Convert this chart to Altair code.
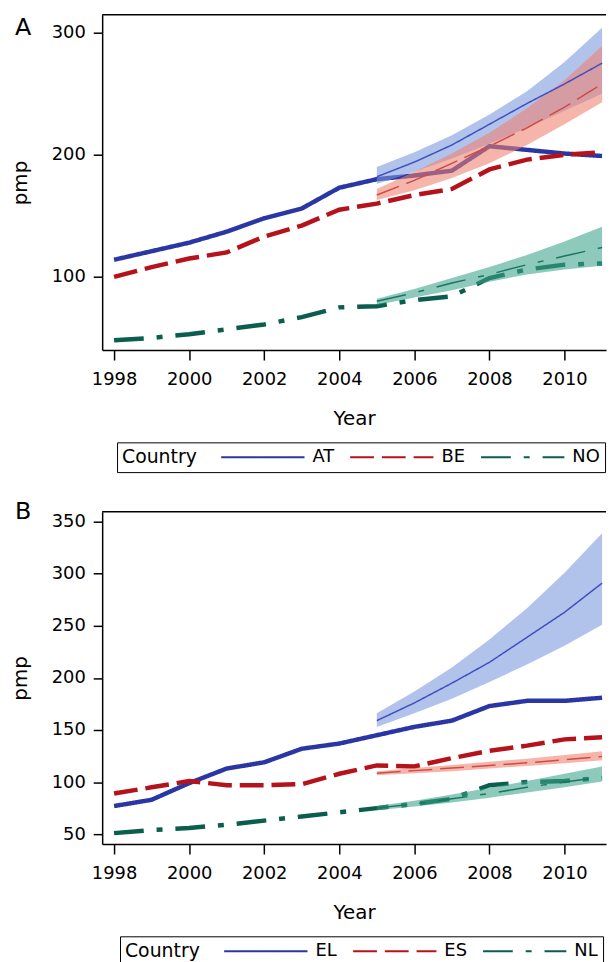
import altair as alt
import pandas as pd

FONT = "DejaVu Sans"

# ---------------- data ----------------
years = list(range(1998, 2012))
proj_years = list(range(2005, 2012))
panel_labels = ["A", "B"]

# Panel A
a_countries = ["AT", "BE", "NO"]
a_obs_AT = [114, 121, 128, 137, 148, 156, 173, 180, 183, 187, 207, 204, 201, 199]
a_obs_BE = [100, 108, 115, 120, 133, 142, 155, 160, 167, 172, 188, 196, 200, 202]
a_obs_NO = [48, 50, 53, 57, 61, 67, 75, 76, 81, 84, 99, 106, 110, 111]
a_proj_AT = [182, 194, 208, 225, 242, 258, 275]
a_lo_AT = [176, 186, 197, 209, 222, 236, 250]
a_hi_AT = [190, 202, 216, 233, 252, 276, 304]
a_proj_BE = [167, 179, 193, 207, 222, 239, 258]
a_lo_BE = [163, 171, 181, 193, 208, 225, 243]
a_hi_BE = [172, 186, 201, 218, 238, 261, 289]
a_proj_NO = [80, 87, 95, 102, 110, 117, 124]
a_lo_NO = [77, 83, 89, 96, 102, 106, 109]
a_hi_NO = [82, 90, 99, 108, 118, 129, 141]

# Panel B
b_countries = ["EL", "ES", "NL"]
b_obs_EL = [77, 83, 99, 113, 119, 132, 137, 145, 153, 159, 173, 178, 178, 181]
b_obs_ES = [89, 95, 101, 97, 97, 98, 108, 116, 115, 123, 130, 135, 141, 143]
b_obs_NL = [51, 54, 56, 59, 63, 67, 71, 75, 79, 84, 97, 100, 101, 104]
b_proj_EL = [159, 176, 195, 215, 239, 263, 291]
b_lo_EL = [153, 166, 180, 196, 213, 231, 251]
b_hi_EL = [166, 187, 210, 237, 267, 301, 339]
b_proj_ES = [108.5, 111, 113.5, 116, 118.5, 121.5, 124.5]
b_lo_ES = [106.5, 108.5, 110.5, 113, 115.5, 118, 121]
b_hi_ES = [110.5, 113.5, 116.5, 119.5, 122.5, 126, 129.5]
b_proj_NL = [75, 79, 84, 89, 95, 100, 105]
b_lo_NL = [73, 76.5, 80.5, 85, 90, 95, 100.5]
b_hi_NL = [77, 82, 88, 94.5, 101, 108, 115]

x_ticks = [1998, 2000, 2002, 2004, 2006, 2008, 2010]
x_domain = [1997.683, 2011.106]
a_y_ticks = [100, 200, 300]
b_y_ticks = [50, 100, 150, 200, 250, 300, 350]
a_y_domain = [40, 314.6]
b_y_domain = [40.5, 359.5]

# ---------------- styles ----------------
thick_colors = ["#2a36a3", "#b5121b", "#0b5e4d"]
thin_colors = ["#3f4fc0", "#cf4b45", "#1b7560"]
band_colors = ["#7b97dc", "#ef7f6f", "#3aa48a"]
dashes = [[1, 0], [24, 8], [30, 13, 6, 13]]


def build_frames(countries, obs, proj, lo, hi):
    o_rows, p_rows = [], []
    for c in countries:
        for y, v in zip(years, obs[c]):
            o_rows.append({"year": y, "value": v, "country": c})
        for y, v, l, h in zip(proj_years, proj[c], lo[c], hi[c]):
            p_rows.append({"year": y, "value": v, "lo": l, "hi": h, "country": c})
    return pd.DataFrame(o_rows), pd.DataFrame(p_rows)


def panel(countries, obs, proj, lo, hi, ydomain, yticks, height, label,
          label_y, legend_x, legend_y):
    odf, pdf = build_frames(countries, obs, proj, lo, hi)
    xscale = alt.Scale(domain=x_domain, nice=False, zero=False)
    yscale = alt.Scale(domain=ydomain, nice=False, zero=False)
    legend = alt.Legend(
        title="Country", orient="none", legendX=legend_x, legendY=legend_y,
        direction="horizontal", columns=3, titleOrient="left",
        symbolType="stroke", symbolSize=7056, symbolStrokeWidth=2,
        clipHeight=20, labelOffset=7, columnPadding=15, padding=5,
        strokeColor="black", titlePadding=23, labelFontSize=18,
        titleFontSize=19, titleFontWeight="normal", labelFont=FONT,
        titleFont=FONT, titleColor="black", labelColor="black",
    )
    thick = alt.Chart(odf).mark_line(strokeWidth=4.5, strokeCap="butt").encode(
        x=alt.X("year:Q", scale=xscale, title="Year",
                axis=alt.Axis(values=x_ticks, format="d", tickSize=10,
                              labelPadding=11, titlePadding=20, domain=True)),
        y=alt.Y("value:Q", scale=yscale, title="pmp",
                axis=alt.Axis(values=yticks, tickSize=9, labelPadding=8,
                              titlePadding=21, domain=True)),
        color=alt.Color("country:N",
                        scale=alt.Scale(domain=countries, range=thick_colors),
                        legend=legend),
        strokeDash=alt.StrokeDash("country:N",
                                  scale=alt.Scale(domain=countries, range=dashes),
                                  legend=legend),
    )
    band = alt.Chart(pdf).mark_area(opacity=0.58).encode(
        x=alt.X("year:Q"),
        y=alt.Y("lo:Q"),
        y2="hi:Q",
        fill=alt.Fill("country:N",
                      scale=alt.Scale(domain=countries, range=band_colors),
                      legend=None),
    )
    thin = alt.Chart(pdf).mark_line(strokeWidth=1.5, strokeCap="butt").encode(
        x=alt.X("year:Q"),
        y=alt.Y("value:Q"),
        stroke=alt.Stroke("country:N",
                          scale=alt.Scale(domain=countries, range=thin_colors),
                          legend=None),
        strokeDash=alt.StrokeDash("country:N", legend=None),
    )
    frame_top = alt.Chart(pd.DataFrame({"k": [0]})).mark_rule(
        color="black", strokeWidth=1.5).encode(
        x=alt.datum(x_domain[0]), x2=alt.datum(x_domain[1]),
        y=alt.datum(ydomain[1]))
    lab = alt.Chart(pd.DataFrame({"label": [label]})).mark_text(
        align="left", baseline="top", fontSize=24, font=FONT,
        color="black").encode(
        x=alt.value(-88), y=alt.value(label_y), text="label:N")
    return alt.layer(thick, band, thin, frame_top, lab).properties(
        width=508, height=height)


pa = panel(a_countries,
           {"AT": a_obs_AT, "BE": a_obs_BE, "NO": a_obs_NO},
           {"AT": a_proj_AT, "BE": a_proj_BE, "NO": a_proj_NO},
           {"AT": a_lo_AT, "BE": a_lo_BE, "NO": a_lo_NO},
           {"AT": a_hi_AT, "BE": a_hi_BE, "NO": a_hi_NO},
           a_y_domain, a_y_ticks, 338, panel_labels[0], 1, 15, 431)
pb = panel(b_countries,
           {"EL": b_obs_EL, "ES": b_obs_ES, "NL": b_obs_NL},
           {"EL": b_proj_EL, "ES": b_proj_ES, "NL": b_proj_NL},
           {"EL": b_lo_EL, "ES": b_lo_ES, "NL": b_lo_NL},
           {"EL": b_hi_EL, "ES": b_hi_ES, "NL": b_hi_NL},
           b_y_domain, b_y_ticks, 335, panel_labels[1], -11.5, 18, 428)

chart = alt.vconcat(pa, pb, spacing=27).resolve_scale(
    color="independent", strokeDash="independent", fill="independent",
    stroke="independent", x="independent", y="independent"
).resolve_legend(color="independent", strokeDash="independent").properties(
    padding={"left": 10, "top": 10, "right": 0, "bottom": 0},
    background="white",
).configure_view(stroke=None).configure_axis(
    grid=False, domainColor="black", domainWidth=1.5, tickColor="black",
    tickWidth=1.5, labelColor="black", titleColor="black", labelFont=FONT,
    titleFont=FONT, labelFontSize=18, titleFontSize=20,
    titleFontWeight="normal",
)

chart.save("out.html", embed_options={"renderer": "svg", "actions": False})
